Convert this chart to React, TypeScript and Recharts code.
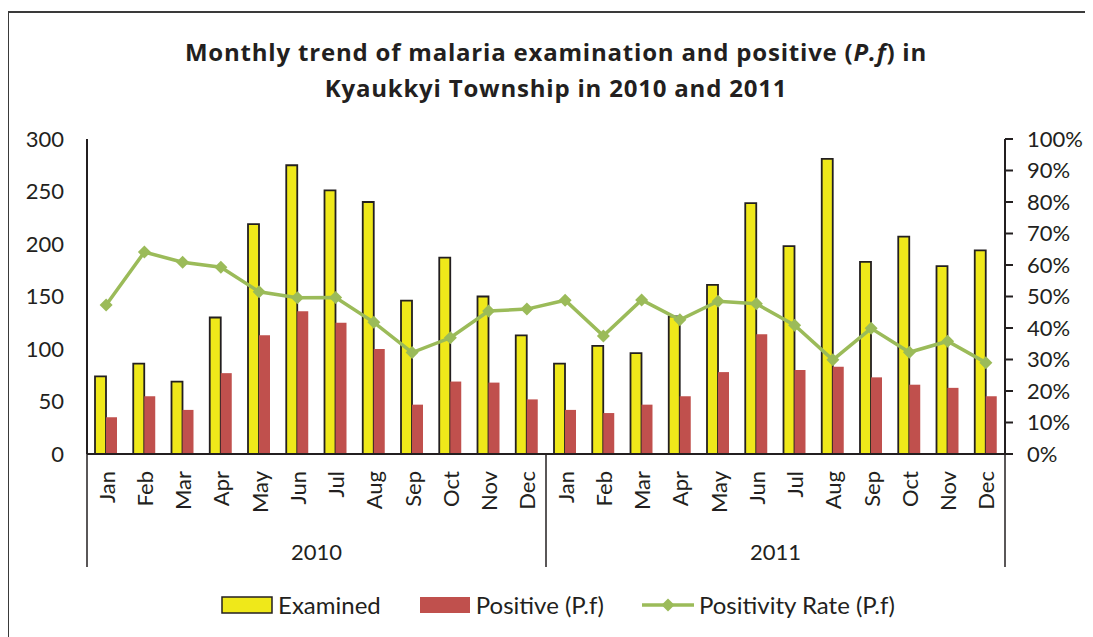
import { Bar, ComposedChart, Line, XAxis, YAxis } from 'recharts'

const MONTHS = ['Jan', 'Feb', 'Mar', 'Apr', 'May', 'Jun', 'Jul', 'Aug', 'Sep', 'Oct', 'Nov', 'Dec']
const YEARS = ['2010', '2011']

const EXAMINED_2010 = [74, 86, 69, 130, 219, 275, 251, 240, 146, 187, 150, 113]
const EXAMINED_2011 = [86, 103, 96, 131, 161, 239, 198, 281, 183, 207, 179, 194]
const POSITIVE_2010 = [35, 55, 42, 77, 113, 136, 125, 100, 47, 69, 68, 52]
const POSITIVE_2011 = [42, 39, 47, 55, 78, 114, 80, 83, 73, 66, 63, 55]
const RATE_2010 = [47.3, 64.1, 60.9, 59.3, 51.5, 49.6, 49.7, 41.8, 32.2, 36.9, 45.4, 46.0]
const RATE_2011 = [48.8, 37.5, 48.9, 42.6, 48.5, 47.7, 40.9, 29.9, 39.9, 32.3, 35.8, 29.0]

const COUNT_TICKS = [0, 50, 100, 150, 200, 250, 300]
const RATE_TICKS = [0, 10, 20, 30, 40, 50, 60, 70, 80, 90, 100]

const YELLOW = '#EFE81A'
const RED = '#C0504D'
const GREEN = '#9BBB59'
const INK = '#231F20'
const FONT = 'Lato, "Open Sans", sans-serif'
const TITLE_FONT = '"Open Sans", Lato, sans-serif'

const byYear = [
  { examined: EXAMINED_2010, positive: POSITIVE_2010, rate: RATE_2010 },
  { examined: EXAMINED_2011, positive: POSITIVE_2011, rate: RATE_2011 },
]

const data = YEARS.flatMap((year, yi) =>
  MONTHS.map((month, mi) => ({
    key: `${year}-${month}`,
    month,
    year,
    examined: byYear[yi].examined[mi],
    positive: byYear[yi].positive[mi],
    rate: byYear[yi].rate[mi],
  })),
)

// month labels rotated, plus the second level (year) with its divider lines
function MonthTick(props: any) {
  const { x, y, payload } = props
  const i: number = payload.index
  const half: number = payload.offset || 19
  const row = data[i]
  return (
    <g>
      <text
        transform={`translate(${x},${y + 17}) rotate(-90)`}
        textAnchor="end"
        dominantBaseline="central"
        fontSize={22}
        fontFamily={FONT}
        fill={INK}
      >
        {row.month}
      </text>
      {i % 12 === 0 && (
        <>
          <line x1={x - half} x2={x - half} y1={y} y2={y + 113} stroke={INK} strokeWidth={1.5} />
          <text x={x + 11 * half} y={y + 97} textAnchor="middle" dominantBaseline="central" fontSize={22} fontFamily={FONT} fill={INK}>
            {row.year}
          </text>
        </>
      )}
      {i === data.length - 1 && (
        <line x1={x + half} x2={x + half} y1={y} y2={y + 113} stroke={INK} strokeWidth={1.5} />
      )}
    </g>
  )
}

function Diamond(props: any) {
  const { cx, cy, index } = props
  if (cx == null || cy == null) return <g key={index} />
  const r = 6.5
  return <polygon key={index} points={`${cx},${cy - r} ${cx + r},${cy} ${cx},${cy + r} ${cx - r},${cy}`} fill={GREEN} />
}

function LegendItem({ kind, label }: { kind: 'examined' | 'positive' | 'rate'; label: string }) {
  return (
    <div style={{ display: 'flex', alignItems: 'center', gap: 5 }}>
      <svg width={52} height={20}>
        {kind === 'examined' && <rect x={1} y={2} width={50} height={16} fill={YELLOW} stroke={INK} strokeWidth={1.5} />}
        {kind === 'positive' && <rect x={1} y={2} width={50} height={16} fill={RED} />}
        {kind === 'rate' && (
          <>
            <line x1={0} x2={52} y1={10} y2={10} stroke={GREEN} strokeWidth={3.5} />
            <polygon points="26,3.5 32.5,10 26,16.5 19.5,10" fill={GREEN} />
          </>
        )}
      </svg>
      <span>{label}</span>
    </div>
  )
}

export default function App() {
  return (
    <div style={{ position: 'relative', width: 1085, height: 629, fontFamily: FONT, color: INK }}>
      <style>{'body{overflow:hidden}'}</style>
      <div
        style={{
          position: 'absolute',
          left: -1,
          top: 3,
          width: 1100,
          height: 700,
          borderTop: '2px solid #3a3a3a',
          borderLeft: '2px solid #3a3a3a',
        }}
      />
      <div
        style={{
          position: 'absolute',
          left: 0,
          top: 26,
          width: 1096,
          textAlign: 'center',
          fontFamily: TITLE_FONT,
          fontWeight: 700,
          fontSize: 24,
          letterSpacing: 0.8,
          lineHeight: '36px',
        }}
      >
        <div>
          Monthly trend of malaria examination and positive (<i>P.f</i>) in
        </div>
        <div>Kyaukkyi Township in 2010 and 2011</div>
      </div>
      <ComposedChart
        width={1085}
        height={629}
        data={data}
        margin={{ top: 131, right: 0, bottom: 69, left: 0 }}
        barGap={0}
        barSize={11}
        style={{ position: 'absolute', left: 0, top: 0 }}
      >
        <XAxis
          dataKey="key"
          xAxisId={0}
          interval={0}
          height={114}
          tickSize={0}
          tickMargin={0}
          tickLine={false}
          axisLine={{ stroke: INK, strokeWidth: 2 }}
          tick={<MonthTick />}
        />
        <YAxis
          yAxisId="count"
          width={79}
          domain={[0, 300]}
          ticks={COUNT_TICKS}
          tickSize={0}
          tickMargin={23}
          tickLine={false}
          axisLine={{ stroke: INK, strokeWidth: 2 }}
          tick={{ fill: INK, fontSize: 22, fontFamily: FONT }}
        />
        <YAxis
          yAxisId="rate"
          orientation="right"
          width={88}
          domain={[0, 100]}
          ticks={RATE_TICKS}
          tickFormatter={(v) => `${v}%`}
          tickSize={8}
          tickMargin={14}
          tickLine={{ stroke: INK, strokeWidth: 2 }}
          axisLine={{ stroke: INK, strokeWidth: 2 }}
          tick={{ fill: INK, fontSize: 22, fontFamily: FONT, textAnchor: 'start' }}
        />
        <Bar yAxisId="count" dataKey="examined" name="Examined" fill={YELLOW} stroke={INK} strokeWidth={1.8} isAnimationActive={false} />
        <Bar yAxisId="count" dataKey="positive" name="Positive (P.f)" fill={RED} isAnimationActive={false} />
        <Line
          yAxisId="rate"
          dataKey="rate"
          name="Positivity Rate (P.f)"
          stroke={GREEN}
          strokeWidth={3.5}
          dot={(p: any) => <Diamond {...p} />}
          activeDot={false}
          isAnimationActive={false}
        />
      </ComposedChart>
      <div
        style={{
          position: 'absolute',
          left: 0,
          top: 582,
          width: 1100,
          display: 'flex',
          justifyContent: 'center',
          gap: 38,
          fontSize: 24,
        }}
      >
        <LegendItem kind="examined" label="Examined" />
        <LegendItem kind="positive" label="Positive (P.f)" />
        <LegendItem kind="rate" label="Positivity Rate (P.f)" />
      </div>
    </div>
  )
}
